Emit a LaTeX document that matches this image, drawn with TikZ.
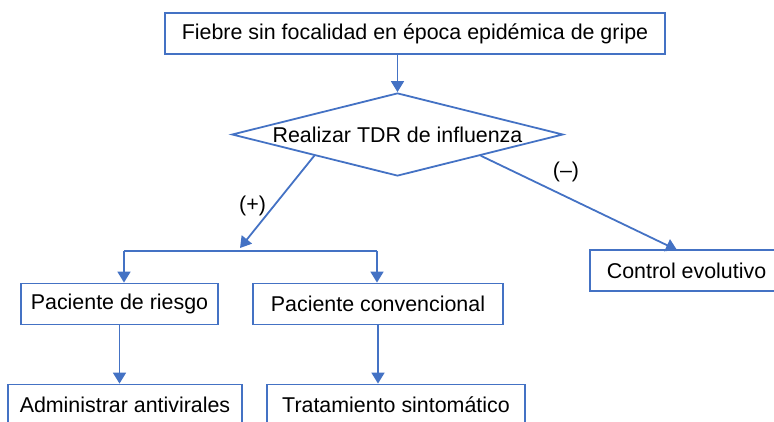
\documentclass[tikz,border=0pt]{standalone}
\usepackage{fontspec}
\setmainfont{Liberation Sans}
\usetikzlibrary{shapes.geometric,arrows.meta}
\definecolor{flowblue}{RGB}{68,114,196}
\tikzset{
  box/.style={draw=flowblue, line width=1.8pt, rectangle, inner sep=0pt, minimum height=41pt, text=black},
  decision/.style={draw=flowblue, line width=1.8pt, diamond, aspect=4, inner sep=0pt, minimum width=331pt, minimum height=83pt, text=black},
  conn/.style={draw=flowblue, line width=1.8pt},
  arr/.style={conn, -{Triangle[width=13pt,length=11pt]}},
  lbl/.style={inner sep=0pt, text=black}
}
\begin{document}
\begin{tikzpicture}[x=1pt,y=-1pt,font=\fontsize{21.4}{25}\selectfont]
\clip (0,0) rectangle (774,422);
\node[box, minimum width=500pt] (top) at (415,33.5) {Fiebre sin focalidad en época epidémica de gripe};
\node[decision] (d) at (397.5,134.5) {Realizar TDR de influenza};
\node[box, minimum width=197pt] (pr) at (119.5,304) {Paciente de riesgo};
\node[box, minimum width=250pt] (pc) at (378,304) {Paciente convencional};
\node[box, minimum width=234pt] (adm) at (125,405) {Administrar antivirales};
\node[box, minimum width=258pt] (tr) at (396,405) {Tratamiento sintomático};
\node[box, minimum width=193pt] (ctrl) at (686.5,270.5) {Control evolutivo};
\coordinate (plus) at (240,248);
\coordinate (bl) at (124,251);
\coordinate (br) at (377,251);
\coordinate (ctrltip) at (677,250);
\node[lbl] (lp) at (252.5,206) {(+)};
\node[lbl] (lm) at (566,172) {(–)};
\draw[arr] (d.north |- top.south) -- (d.north);
\draw[arr] (d.south west) -- (plus);
\draw[conn] (bl) -- (br);
\draw[arr] (bl) -- (bl |- pr.north);
\draw[arr] (br) -- (br |- pc.north);
\draw[arr] (pr.south) -- (pr.south |- adm.north);
\draw[arr] (pc.south) -- (pc.south |- tr.north);
\draw[arr] (d.south east) -- (ctrltip);
\end{tikzpicture}
\end{document}
